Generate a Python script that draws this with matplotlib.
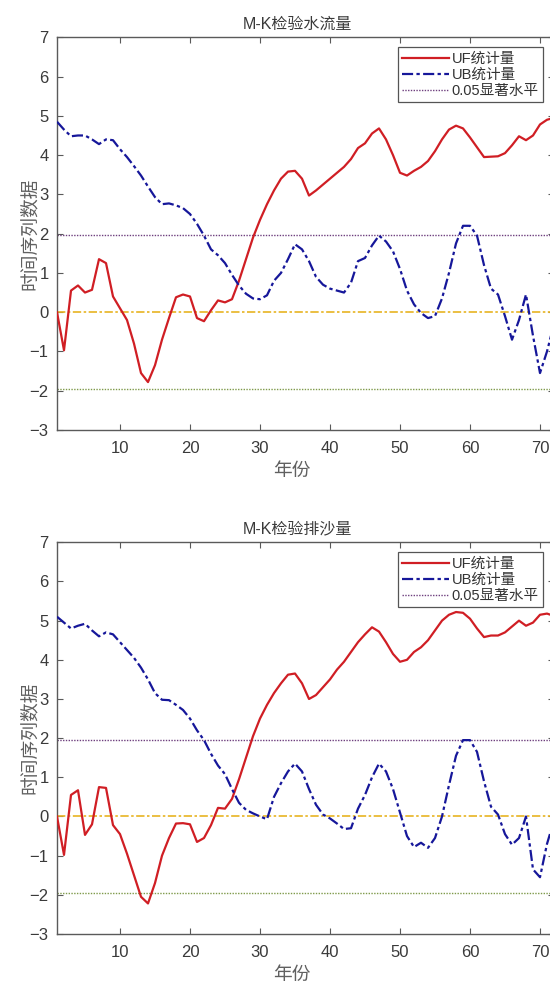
import matplotlib
matplotlib.use('Agg')
import matplotlib.pyplot as plt
from matplotlib.lines import Line2D

plt.rcParams['font.family'] = ['Liberation Sans', 'Noto Sans CJK SC', 'DejaVu Sans']

years = list(range(1, 73))

uf_flow = [0, -0.97, 0.55, 0.68, 0.5, 0.57, 1.35, 1.25, 0.4, 0.1,
           -0.2, -0.8, -1.55, -1.78, -1.35, -0.7, -0.15, 0.38, 0.45, 0.4,
           -0.15, -0.23, 0.05, 0.3, 0.25, 0.33, 0.8, 1.35, 1.9, 2.35,
           2.75, 3.1, 3.4, 3.58, 3.6, 3.4, 2.97, 3.1, 3.25, 3.4,
           3.55, 3.7, 3.9, 4.18, 4.3, 4.55, 4.68, 4.4, 4.0, 3.55,
           3.48, 3.6, 3.7, 3.85, 4.1, 4.4, 4.65, 4.75, 4.68, 4.45,
           4.2, 3.95, 3.96, 3.97, 4.05, 4.25, 4.48, 4.38, 4.5, 4.78,
           4.9, 4.95]
ub_flow = [4.85, 4.65, 4.48, 4.5, 4.5, 4.4, 4.28, 4.4, 4.38, 4.15,
           3.95, 3.72, 3.48, 3.2, 2.93, 2.75, 2.77, 2.72, 2.65, 2.5,
           2.25, 1.95, 1.6, 1.45, 1.25, 0.95, 0.68, 0.47, 0.35, 0.33,
           0.43, 0.8, 1.0, 1.35, 1.73, 1.6, 1.3, 0.9, 0.7, 0.6,
           0.55, 0.5, 0.75, 1.3, 1.38, 1.7, 1.95, 1.8, 1.55, 1.1,
           0.55, 0.2, -0.02, -0.15, -0.1, 0.35, 1.0, 1.75, 2.2, 2.2,
           1.95, 1.2, 0.6, 0.45, -0.1, -0.7, -0.2, 0.45, -0.6, -1.55,
           -1.0, -0.3]

uf_sed = [0, -0.98, 0.55, 0.67, -0.47, -0.2, 0.75, 0.73, -0.22, -0.45,
          -0.95, -1.5, -2.05, -2.22, -1.7, -1.0, -0.55, -0.18, -0.17, -0.2,
          -0.65, -0.55, -0.22, 0.22, 0.2, 0.45, 0.95, 1.5, 2.05, 2.5,
          2.85, 3.15, 3.4, 3.62, 3.65, 3.4, 3.0, 3.1, 3.3, 3.5,
          3.75, 3.95, 4.2, 4.45, 4.65, 4.83, 4.72, 4.45, 4.15, 3.95,
          4.0, 4.2, 4.32, 4.5, 4.75, 5.0, 5.15, 5.22, 5.2, 5.05,
          4.8, 4.58, 4.62, 4.62, 4.7, 4.85, 5.0, 4.87, 4.95, 5.15,
          5.18, 5.12]
ub_sed = [5.1, 4.95, 4.8, 4.87, 4.92, 4.75, 4.6, 4.7, 4.65, 4.45,
          4.25, 4.05, 3.8, 3.5, 3.15, 2.98, 2.97, 2.85, 2.72, 2.5,
          2.2, 1.95, 1.6, 1.3, 1.08, 0.7, 0.35, 0.17, 0.08, 0.0,
          -0.07, 0.5, 0.85, 1.15, 1.35, 1.15, 0.7, 0.3, 0.05, -0.05,
          -0.18, -0.32, -0.3, 0.2, 0.55, 1.0, 1.35, 1.15, 0.7, 0.1,
          -0.5, -0.78, -0.67, -0.8, -0.55, 0.0, 0.8, 1.55, 1.95, 1.95,
          1.65, 0.9, 0.25, 0.05, -0.45, -0.72, -0.55, 0.0, -1.35, -1.55,
          -0.7, -0.1]

sig_level = 1.96
titles = ['M-K检验水流量', 'M-K检验排沙量']
legend_labels = ['UF统计量', 'UB统计量', '0.05显著水平']
x_label = '年份'
y_label = '时间序列数据'
x_ticks = [10, 20, 30, 40, 50, 60, 70]
y_ticks = [-3, -2, -1, 0, 1, 2, 3, 4, 5, 6, 7]

W, H = 550, 986
fig = plt.figure(figsize=(W / 100, H / 100), dpi=100)

red = '#d01e24'
blue = '#16179a'
text_c = '#3a3a3a'
spine_c = '#5a5a5a'

panels = [
    (uf_flow, ub_flow, titles[0], 37.3, 430.0),
    (uf_sed, ub_sed, titles[1], 542.3, 934.0),
]

for uf, ub, title, top_px, bot_px in panels:
    left_px = 57.0
    right_px = 57.0 + 71 * 7.0
    h_px = bot_px - top_px
    w_px = right_px - left_px
    ax = fig.add_axes([left_px / W, 1 - bot_px / H, w_px / W, h_px / H])
    ax.plot(years, uf, color=red, lw=1.6, zorder=3)
    ax.plot(years, ub, color=blue, lw=1.6, dashes=(5, 1.5, 1.5, 1.5), zorder=3)
    ax.axhline(sig_level, color='#6e3f7e', lw=1.0, ls=(0, (1, 1)), zorder=2)
    ax.axhline(0, color='#e8b422', lw=1.2, ls=(0, (5, 1.5, 1.5, 1.5)), zorder=2)
    ax.axhline(-sig_level, color='#7f9a4a', lw=1.0, ls=(0, (1, 1)), zorder=2)

    ax.set_xlim(1, 72)
    ax.set_ylim(-3, 7)
    ax.set_xticks(x_ticks)
    ax.set_yticks(y_ticks)
    ax.tick_params(direction='in', length=4, width=0.8, color=spine_c,
                   top=True, right=True, labelsize=12, labelcolor=text_c)
    ax.tick_params(axis='x', pad=8)
    ax.tick_params(axis='y', pad=6)
    for s in ax.spines.values():
        s.set_color(spine_c)
        s.set_linewidth(1.0)

    ax.text((297 - left_px) / w_px, 1 + 13.0 / h_px,
            title, transform=ax.transAxes, ha='center', va='center',
            fontsize=11.5, color=text_c)
    ax.text((292 - left_px) / w_px, -41.0 / h_px,
            x_label, transform=ax.transAxes, ha='center', va='center',
            fontsize=13.5, color='#606060')
    ax.text(-27.0 / w_px, 0.5, y_label,
            transform=ax.transAxes, ha='center', va='center', rotation=90,
            fontsize=13.5, color='#606060')

    handles = [Line2D([], [], color=red, lw=1.6),
               Line2D([], [], color=blue, lw=1.6, dashes=(5, 1.5, 1.5, 1.5)),
               Line2D([], [], color='#6e3f7e', lw=1.0, ls=(0, (1, 1)))]
    leg = ax.legend(handles, legend_labels, loc='upper right',
                    bbox_to_anchor=(543 / W, 1 - (top_px + 10) / H),
                    bbox_transform=fig.transFigure, borderaxespad=0,
                    fontsize=10.5, handlelength=3.2, handletextpad=0.2,
                    labelspacing=0.15, borderpad=0.3, fancybox=False,
                    framealpha=1, edgecolor='#555555')
    leg.get_frame().set_linewidth(0.9)
    for t in leg.get_texts():
        t.set_color('#333333')

fig.savefig('out.png', dpi=100)
